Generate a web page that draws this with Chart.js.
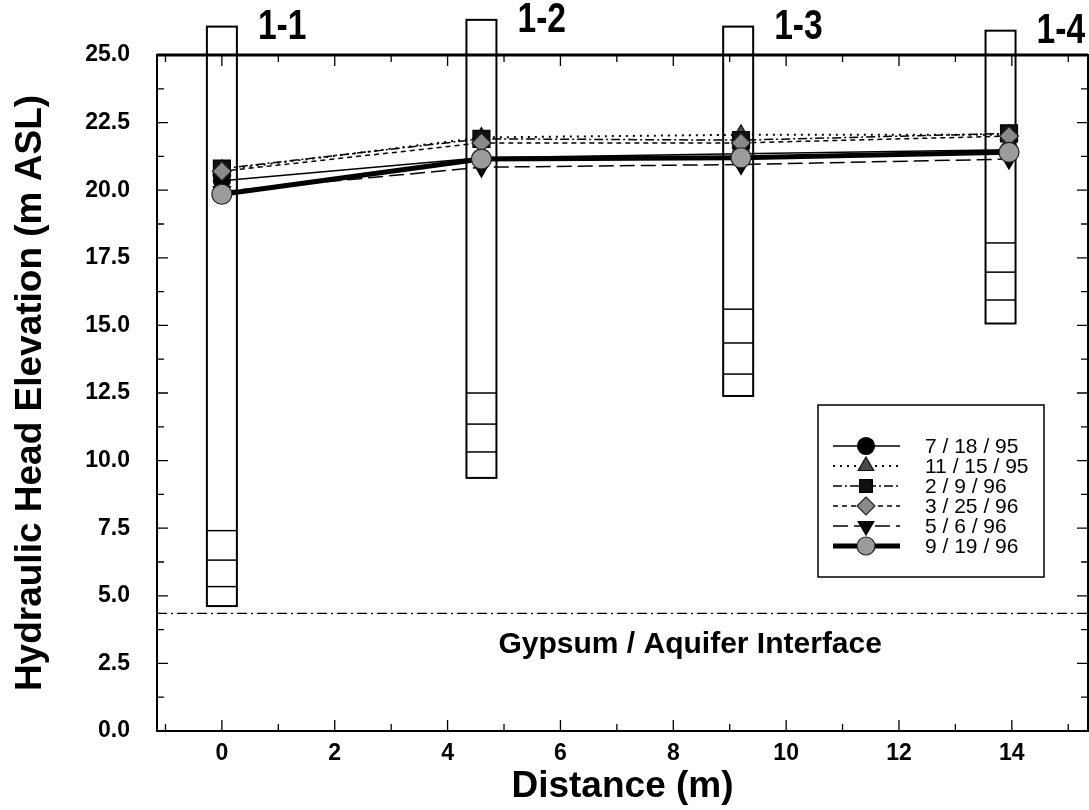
<!DOCTYPE html>
<html>
<head>
<meta charset="utf-8">
<title>Hydraulic head profile</title>
<script src="https://cdn.jsdelivr.net/npm/chart.js@4.4.1/dist/chart.umd.min.js"></script>
<style>
  html, body { margin: 0; padding: 0; background: #fff; overflow: hidden; }
  canvas { display: block; }
</style>
</head>
<body>
<canvas id="myChart" width="1089" height="810"></canvas>
<script>
// data

// wells
const wellNames = ['1-1', '1-2', '1-3', '1-4'];
const wellX = [0, 4.6, 9.15, 13.8];
const wellTop = [26.05, 26.3, 26.05, 25.9];
const wellBottom = [4.62, 9.36, 12.39, 15.07];
const screenLines = [
  [7.41, 6.32, 5.34],
  [12.5, 11.35, 10.32],
  [15.6, 14.35, 13.2],
  [18.05, 16.97, 15.94]
];

// measured heads
const pointX = [0, 4.6, 9.2, 13.95];
const dates = ['7 / 18 / 95', '11 / 15 / 95', '2 / 9 / 96', '3 / 25 / 96', '5 / 6 / 96', '9 / 19 / 96'];
const head071895 = [20.35, 21.2, 21.35, 21.5];
const head111595 = [20.75, 21.95, 22.05, 22.05];
const head020996 = [20.8, 21.9, 21.85, 22.1];
const head032596 = [20.7, 21.75, 21.75, 22.0];
const head050696 = [19.95, 20.85, 20.95, 21.15];
const head091996 = [19.85, 21.15, 21.2, 21.4];

const gypsumLevel = 4.35;

// ticks
const xTicks = [0, 2, 4, 6, 8, 10, 12, 14];
const xMinor = [-1, 1, 3, 5, 7, 9, 11, 13, 15];
const yTicks = [0, 2.5, 5, 7.5, 10, 12.5, 15, 17.5, 20, 22.5, 25];
const yMinor = [1.25, 3.75, 6.25, 8.75, 11.25, 13.75, 16.25, 18.75, 21.25, 23.75];

const FONT = "'Liberation Sans', Arial, sans-serif";

function pts(ys) {
  return pointX.map((x, i) => ({ x: x, y: ys[i] }));
}

// series styles
const styles = [
  { data: head071895, width: 1.5, dash: [], shape: 'circle', rot: 0, r: 8.5, fill: '#000', edge: '#000' },
  { data: head111595, width: 2, dash: [2, 5], shape: 'triangle', rot: 0, r: 10, fill: '#4a4a4a', edge: '#111' },
  { data: head020996, width: 1.5, dash: [9, 3, 2, 3], shape: 'rect', rot: 0, r: 12, fill: '#111', edge: '#000' },
  { data: head032596, width: 1.5, dash: [5, 4], shape: 'rectRot', rot: 0, r: 9.5, fill: '#8a8a8a', edge: '#222' },
  { data: head050696, width: 1.5, dash: [15, 6], shape: 'triangle', rot: 180, r: 10, fill: '#000', edge: '#000' },
  { data: head091996, width: 5, dash: [], shape: 'circle', rot: 0, r: 10, fill: '#9b9b9b', edge: '#222' }
];

const datasets = styles.map((s, i) => ({
  label: dates[i],
  data: pts(s.data),
  borderColor: '#000',
  borderWidth: s.width,
  borderDash: s.dash,
  pointStyle: s.shape,
  pointRotation: s.rot,
  pointRadius: s.r,
  pointHoverRadius: s.r,
  pointBackgroundColor: s.fill,
  pointBorderColor: s.edge,
  pointBorderWidth: 1.2,
  tension: 0,
  fill: false,
  order: styles.length - i
}));

// wells, gypsum line and labels under the data
const wellPlugin = {
  id: 'wells',
  beforeDatasetsDraw(chart) {
    const ctx = chart.ctx;
    const xs = chart.scales.x, ys = chart.scales.y;
    const ca = chart.chartArea;
    ctx.save();
    ctx.strokeStyle = '#000';
    ctx.setLineDash([]);
    for (let i = 0; i < wellX.length; i++) {
      const cx = xs.getPixelForValue(wellX[i]);
      const top = ys.getPixelForValue(wellTop[i]);
      const bot = ys.getPixelForValue(wellBottom[i]);
      ctx.lineWidth = 2;
      ctx.strokeRect(cx - 15, top, 30, bot - top);
      ctx.lineWidth = 1.5;
      screenLines[i].forEach(v => {
        const py = ys.getPixelForValue(v);
        ctx.beginPath();
        ctx.moveTo(cx - 15, py);
        ctx.lineTo(cx + 15, py);
        ctx.stroke();
      });
      // condensed bold well label
      ctx.save();
      ctx.translate(cx + 36, top + 1);
      ctx.scale(0.8, 1);
      ctx.fillStyle = '#000';
      ctx.font = 'bold 42px ' + FONT;
      ctx.textAlign = 'left';
      ctx.textBaseline = 'middle';
      ctx.fillText(wellNames[i], 0, 0);
      ctx.restore();
    }
    // gypsum / aquifer contact
    const gy = ys.getPixelForValue(gypsumLevel);
    ctx.lineWidth = 1.3;
    ctx.setLineDash([10, 4, 2, 4]);
    ctx.beginPath();
    ctx.moveTo(ca.left, gy);
    ctx.lineTo(ca.right, gy);
    ctx.stroke();
    ctx.setLineDash([]);
    ctx.fillStyle = '#000';
    ctx.font = 'bold 30px ' + FONT;
    ctx.textAlign = 'center';
    ctx.textBaseline = 'middle';
    ctx.fillText('Gypsum / Aquifer Interface', xs.getPixelForValue(8.3), ys.getPixelForValue(3.2));
    ctx.restore();
  }
};

// frame, inward ticks and legend on top
const framePlugin = {
  id: 'frame',
  afterDraw(chart) {
    const ctx = chart.ctx;
    const xs = chart.scales.x, ys = chart.scales.y;
    const ca = chart.chartArea;
    ctx.save();
    ctx.strokeStyle = '#000';
    ctx.setLineDash([]);
    ctx.lineWidth = 2;
    ctx.strokeRect(ca.left, ca.top, ca.right - ca.left, ca.bottom - ca.top);
    ctx.lineWidth = 3;
    ctx.beginPath();
    ctx.moveTo(ca.left, ca.top);
    ctx.lineTo(ca.right, ca.top);
    ctx.stroke();
    ctx.lineWidth = 1.3;
    function tickX(v, len) {
      const px = xs.getPixelForValue(v);
      ctx.beginPath();
      ctx.moveTo(px, ca.bottom); ctx.lineTo(px, ca.bottom - len);
      ctx.moveTo(px, ca.top); ctx.lineTo(px, ca.top + len);
      ctx.stroke();
    }
    function tickY(v, len) {
      const py = ys.getPixelForValue(v);
      ctx.beginPath();
      ctx.moveTo(ca.left, py); ctx.lineTo(ca.left + len, py);
      ctx.moveTo(ca.right, py); ctx.lineTo(ca.right - len, py);
      ctx.stroke();
    }
    xTicks.forEach(v => tickX(v, 11));
    xMinor.forEach(v => tickX(v, 7));
    yTicks.forEach(v => tickY(v, 11));
    yMinor.forEach(v => tickY(v, 7));

    // legend
    const lx = 818, ly = 405, lw = 226, lh = 172;
    ctx.lineWidth = 1.5;
    ctx.fillStyle = '#fff';
    ctx.fillRect(lx, ly, lw, lh);
    ctx.strokeRect(lx, ly, lw, lh);
    chart.data.datasets.forEach((ds, i) => {
      const y = ly + 41 + i * 20;
      ctx.strokeStyle = '#000';
      ctx.lineWidth = ds.borderWidth;
      ctx.setLineDash(ds.borderDash);
      ctx.beginPath();
      ctx.moveTo(833, y);
      ctx.lineTo(900, y);
      ctx.stroke();
      ctx.setLineDash([]);
      ctx.fillStyle = ds.pointBackgroundColor;
      ctx.strokeStyle = ds.pointBorderColor;
      ctx.lineWidth = ds.pointBorderWidth;
      Chart.helpers.drawPoint(ctx, {
        pointStyle: ds.pointStyle,
        rotation: ds.pointRotation,
        radius: Math.min(ds.pointRadius, 9),
        borderWidth: ds.pointBorderWidth
      }, 866, y);
      ctx.fillStyle = '#000';
      ctx.font = '21px ' + FONT;
      ctx.textAlign = 'left';
      ctx.textBaseline = 'middle';
      ctx.fillText(ds.label, 925, y + 1);
    });
    ctx.restore();
  }
};

const ctx = document.getElementById('myChart').getContext('2d');
const chart = new Chart(ctx, {
  type: 'line',
  data: { datasets: datasets },
  options: {
    responsive: false,
    animation: false,
    layout: {
      autoPadding: false,
      padding: { top: 55, right: 1, left: 0, bottom: 0 }
    },
    plugins: {
      legend: { display: false },
      tooltip: { enabled: false }
    },
    scales: {
      x: {
        type: 'linear',
        min: -1.15,
        max: 15.35,
        afterBuildTicks: s => { s.ticks = xTicks.map(v => ({ value: v })); },
        afterFit: s => { s.height = 79; s.paddingLeft = 0; s.paddingRight = 0; },
        grid: { display: false, drawTicks: false },
        border: { display: false },
        ticks: {
          color: '#000',
          padding: 9,
          maxRotation: 0,
          font: { family: FONT, size: 23, weight: 'bold' },
          callback: v => String(v)
        },
        title: {
          display: true,
          text: 'Distance (m)',
          color: '#000',
          font: { family: FONT, size: 37, weight: 'bold' },
          padding: { top: 0, bottom: 1 }
        }
      },
      y: {
        type: 'linear',
        min: 0,
        max: 25,
        afterBuildTicks: s => { s.ticks = yTicks.map(v => ({ value: v })); },
        afterFit: s => { s.width = 157; s.paddingTop = 0; s.paddingBottom = 0; },
        grid: { display: false, drawTicks: false },
        border: { display: false },
        ticks: {
          color: '#000',
          padding: 27,
          font: { family: FONT, size: 23, weight: 'bold' },
          callback: v => v.toFixed(1)
        },
        title: {
          display: true,
          text: 'Hydraulic Head Elevation (m ASL)',
          color: '#000',
          font: { family: FONT, size: 37, weight: 'bold' },
          padding: { top: 9, bottom: 0 }
        }
      }
    }
  },
  plugins: [wellPlugin, framePlugin]
});
</script>
</body>
</html>
